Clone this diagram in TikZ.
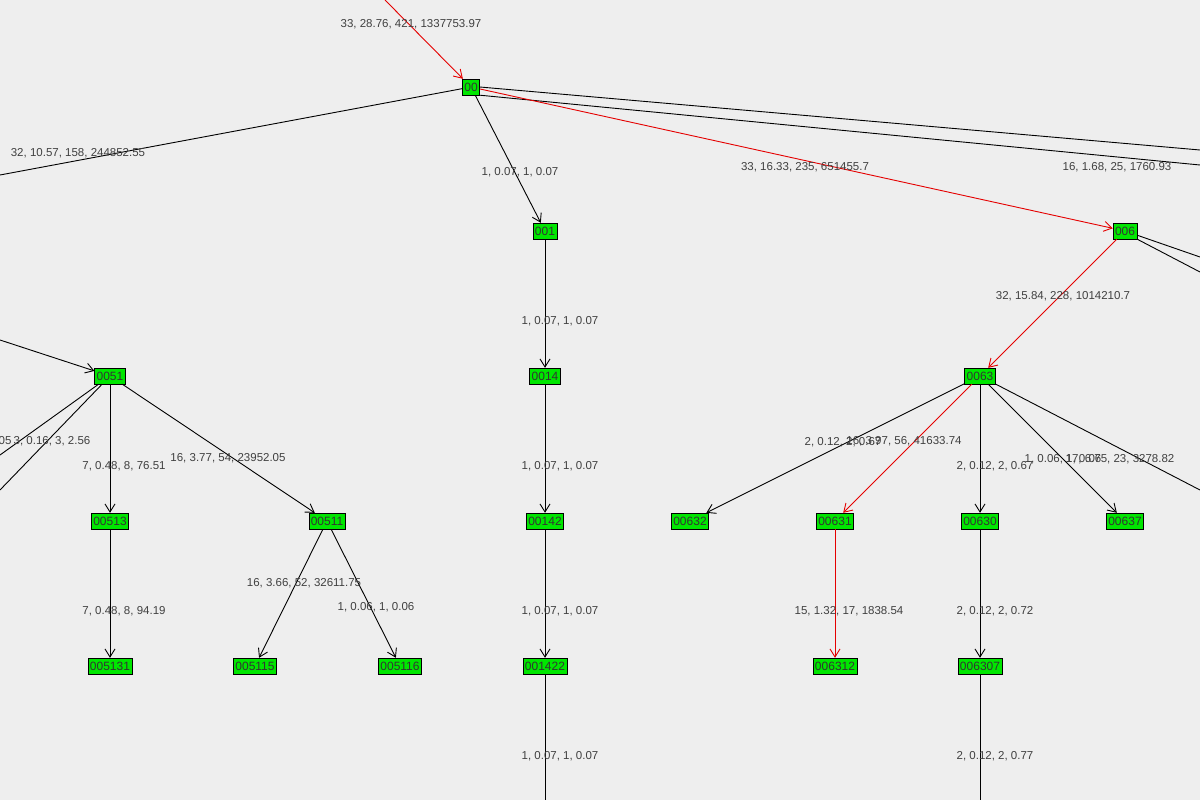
\documentclass[tikz,border=0pt]{standalone}
\usepackage{fontspec}
\setmainfont{Liberation Sans}
\usetikzlibrary{arrows.meta}
\begin{document}
\begin{tikzpicture}[x=1pt,y=-1pt,
  nd/.style={draw=black,fill={rgb,255:red,0;green,230;blue,0},font=\fontsize{12}{12}\selectfont,inner xsep=2pt,inner ysep=1pt,minimum height=16pt,text=black!80},
  lb/.style={font=\fontsize{11.5}{12}\selectfont,text=black!75},
  ed/.style={draw=black,line width=0.9pt,-{Straight Barb[length=8pt,width=10pt]}},
  pl/.style={draw=black,line width=0.9pt},
  rd/.style={draw=red!90!black,line width=0.9pt,-{Straight Barb[length=8pt,width=10pt]}}]
\fill[fill={rgb,255:red,238;green,238;blue,238}] (0,0) rectangle (1200,800);
\useasboundingbox (0,0) rectangle (1200,800);
\node[nd] (n00) at (471,87) {00};
\node[nd] (n001) at (545,231) {001};
\node[nd] (n0014) at (545,376) {0014};
\node[nd] (n00142) at (545,521) {00142};
\node[nd] (n001422) at (545,666) {001422};
\node[nd] (n006) at (1125,231) {006};
\node[nd] (n0063) at (980,376) {0063};
\node[nd] (n00632) at (690,521) {00632};
\node[nd] (n00631) at (835,521) {00631};
\node[nd] (n00630) at (980,521) {00630};
\node[nd] (n00637) at (1125,521) {00637};
\node[nd] (n006312) at (835,666) {006312};
\node[nd] (n006307) at (980,666) {006307};
\node[nd] (n0051) at (110,376) {0051};
\node[nd] (n00513) at (110,521) {00513};
\node[nd] (n00511) at (327,521) {00511};
\node[nd] (n005131) at (110,666) {005131};
\node[nd] (n005115) at (255,666) {005115};
\node[nd] (n005116) at (400,666) {005116};
\coordinate (t0) at (385,0);
\coordinate (l0) at (0,175);
\coordinate (r1) at (1200,150);
\coordinate (r2) at (1200,165);
\coordinate (r3) at (1200,257);
\coordinate (r4) at (1200,272);
\coordinate (r5) at (1200,490);
\coordinate (d1) at (545,800);
\coordinate (d2) at (980,800);
\coordinate (l1) at (0,340);
\coordinate (l2) at (0,455);
\coordinate (l3) at (0,490);
\draw[rd] (t0) -- (n00);
\draw[pl] (n00) -- (l0);
\draw[pl] (n00.east) -- (r1);
\draw[pl] (n00.south east) -- (r2);
\draw[ed] (n00) -- (n001);
\draw[rd] (n00) -- (n006);
\draw[pl] (n006) -- (r3);
\draw[pl] (n006.south east) -- (r4);
\draw[rd] (n006) -- (n0063);
\draw[ed] (n0063) -- (n00632);
\draw[rd] (n0063) -- (n00631);
\draw[ed] (n0063) -- (n00630);
\draw[ed] (n0063) -- (n00637);
\draw[pl] (n0063) -- (r5);
\draw[rd] (n00631) -- (n006312);
\draw[ed] (n00630) -- (n006307);
\draw[pl] (n006307) -- (d2);
\draw[ed] (n001) -- (n0014);
\draw[ed] (n0014) -- (n00142);
\draw[ed] (n00142) -- (n001422);
\draw[pl] (n001422) -- (d1);
\draw[ed] (l1) -- (n0051);
\draw[pl] (n0051) -- (l2);
\draw[pl] (n0051) -- (l3);
\draw[ed] (n0051) -- (n00513);
\draw[ed] (n0051) -- (n00511);
\draw[ed] (n00513) -- (n005131);
\draw[ed] (n00511) -- (n005115);
\draw[ed] (n00511) -- (n005116);
\node[lb] (a1) at (411,24) {33, 28.76, 421, 1337753.97};
\node[lb] (a2) at (78,153) {32, 10.57, 158, 244852.55};
\node[lb] (a3) at (520,172) {1, 0.07, 1, 0.07};
\node[lb] (a4) at (805,167) {33, 16.33, 235, 651455.7};
\node[lb] (a5) at (1117,167) {16, 1.68, 25, 1760.93};
\node[lb] (a6) at (1063,296) {32, 15.84, 228, 1014210.7};
\node[lb] (a7) at (843,442) {2, 0.12, 2, 0.67};
\node[lb] (a8) at (904,441) {16, 3.97, 56, 41633.74};
\node[lb] (a9) at (995,466) {2, 0.12, 2, 0.67};
\node[lb] (a10) at (1063,459) {1, 0.06, 1, 0.06};
\node[lb] (a11) at (1120,459) {17, 6.75, 23, 3278.82};
\node[lb] (a12) at (849,611) {15, 1.32, 17, 1838.54};
\node[lb] (a13) at (995,611) {2, 0.12, 2, 0.72};
\node[lb] (a14) at (995,756) {2, 0.12, 2, 0.77};
\node[lb] (a15) at (560,321) {1, 0.07, 1, 0.07};
\node[lb] (a16) at (560,466) {1, 0.07, 1, 0.07};
\node[lb] (a17) at (560,611) {1, 0.07, 1, 0.07};
\node[lb] (a18) at (560,756) {1, 0.07, 1, 0.07};
\node[lb,anchor=east] (a19) at (15,441) {0.05};
\node[lb] (a20) at (52,441) {3, 0.16, 3, 2.56};
\node[lb] (a21) at (124,466) {7, 0.48, 8, 76.51};
\node[lb] (a22) at (228,458) {16, 3.77, 54, 23952.05};
\node[lb] (a23) at (124,611) {7, 0.48, 8, 94.19};
\node[lb] (a24) at (304,583) {16, 3.66, 52, 32611.75};
\node[lb] (a25) at (376,607) {1, 0.06, 1, 0.06};
\end{tikzpicture}
\end{document}
